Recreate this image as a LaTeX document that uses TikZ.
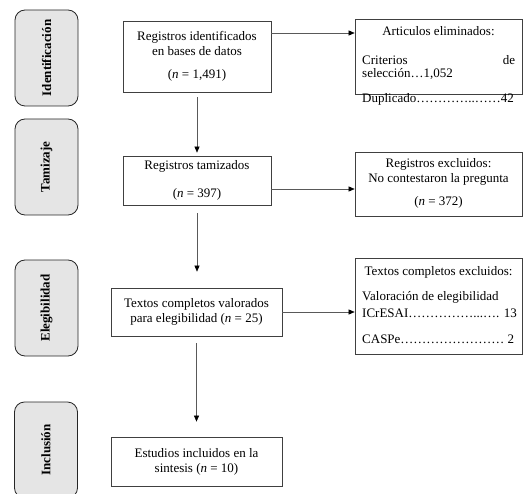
\documentclass[tikz,border=0pt]{standalone}
\usepackage{xcolor}
\usepackage{fontspec}
\setmainfont{Liberation Serif}
\usetikzlibrary{arrows.meta}

\begin{document}
\begin{tikzpicture}[x=1pt,y=-1pt,
          font=\fontsize{13}{15}\selectfont,
          stage/.style={draw=black!85, fill=black!10, line width=0.8pt, rounded corners=10pt,
            minimum width=63pt, minimum height=96pt, inner sep=0pt,
            font=\fontsize{13}{15}\selectfont\bfseries},
          box/.style={draw=black!75, line width=0.7pt, align=center, inner sep=0pt},
          side/.style={draw=black!75, line width=0.7pt, minimum width=167pt, inner sep=0pt},
          txt/.style={inner sep=0pt, text height=9pt, text depth=3pt},
          arr/.style={draw=black!65, line width=0.6pt,
            -{Triangle[length=6pt,width=5pt,color=black]}}]
          \useasboundingbox (0,0) rectangle (532,494);

          \node[stage] (ident) at (46.5,58) {\rotatebox{90}{Identificación}};
          \node[stage] (tamiz) at (46.5,167) {\rotatebox{90}{Tamizaje}};
          \node[stage] (eleg) at (46.5,308) {\rotatebox{90}{Elegibilidad}};
          \node[stage] (incl) at (46,450) {\rotatebox{90}{Inclusión}};

          \node[box, minimum width=148pt, minimum height=71pt] (reg) at (197,56.5)
            {Registros identificados\\en bases de datos\\[8pt](\textit{n} = 1,491)};
          \node[box, minimum width=148pt, minimum height=49pt] (tam) at (197,180.5)
            {Registros tamizados\\[13pt](\textit{n} = 397)};
          \node[box, minimum width=171pt, minimum height=48pt] (val) at (196.5,312)
            {Textos completos valorados\\para elegibilidad (\textit{n} = 25)};
          \node[box, minimum width=171pt, minimum height=49pt] (inc) at (196.5,461.5)
            {Estudios incluidos en la\\sintesis (\textit{n} = 10)};

          \node[side, minimum height=75pt] (elim) at (438.5,56.5) {};
          \node[txt] (elimT) at (438.5,33) {Articulos eliminados:};
          \node[txt, anchor=west, text width=153pt] (elimA) at (362,62) {Criterios\hfill de};
          \node[txt, anchor=west] (elimB) at (362,75) {selección…1,052};
          \node[txt, anchor=west] (elimC) at (362,100) {Duplicado…………..……42};

          \node[side, minimum height=64pt] (excl) at (438.5,184) {};
          \node[txt] (exclT) at (438.5,165) {Registros excluidos:};
          \node[txt] (exclA) at (438.5,180) {No contestaron la pregunta};
          \node[txt] (exclB) at (438.5,203) {(\textit{n} = 372)};

          \node[side, minimum height=96pt] (txex) at (438.5,306) {};
          \node[txt] (txexT) at (438.5,272) {Textos completos excluidos:};
          \node[txt, anchor=west] (txexA) at (362,297) {Valoración de elegibilidad};
          \node[txt, anchor=west] (txexB) at (362,314) {ICrESAI……………...…. 13};
          \node[txt, anchor=west] (txexC) at (362,340) {CASPe…………………… 2};

          \draw[arr, shorten <=5pt, shorten >=3pt] (reg.south) -- (tam.north);
          \draw[arr, shorten <=8pt, shorten >=16pt] (tam.south) -- (tam.south |- val.north);
          \draw[arr, shorten <=7pt, shorten >=15pt] (val.south) -- (inc.north);

          \draw[arr] (elimT -| reg.east) -- (elimT -| elim.west);
          \draw[arr] ([yshift=-8.5pt]tam.east) coordinate (tamout) -- (tamout -| excl.west);
          \draw[arr] (val.east) -- (val.east -| txex.west);
\end{tikzpicture}
\end{document}
